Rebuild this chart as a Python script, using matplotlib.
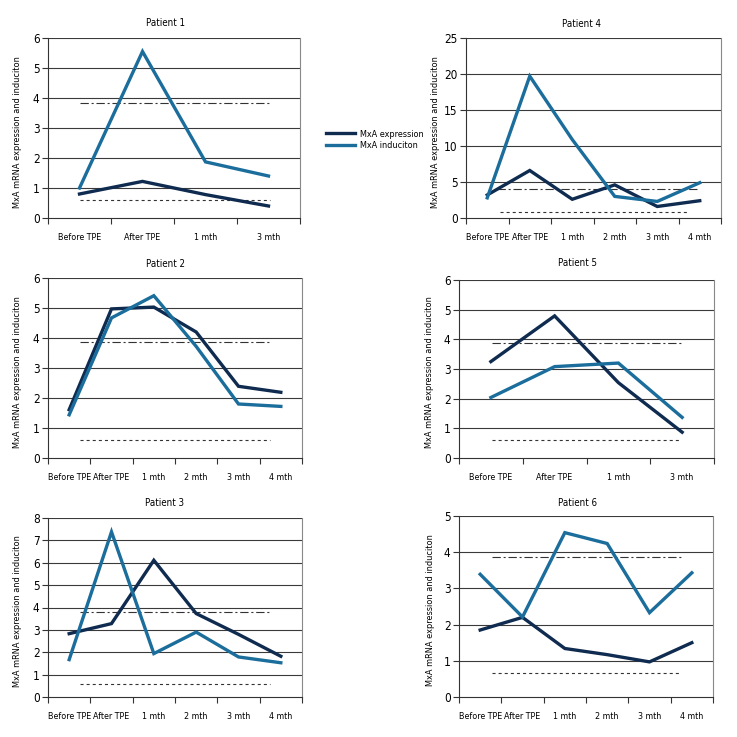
import matplotlib
matplotlib.use("Agg")
import matplotlib.pyplot as plt
from matplotlib.lines import Line2D

plt.rcParams['font.family'] = ['DejaVu Sans']
plt.rcParams['font.stretch'] = 'condensed'
plt.rcParams['lines.scale_dashes'] = False

DARK = "#0f2b50"
LIGHT = "#1b6d9c"

# categories
cats_short = ["Before TPE", "After TPE", "1 mth", "3 mth"]
cats_long = ["Before TPE", "After TPE", "1 mth", "2 mth", "3 mth", "4 mth"]

# MxA expression / induction per patient
p1_expr = [0.8, 1.22, 0.78, 0.4]
p1_ind = [1.0, 5.55, 1.87, 1.4]
p2_expr = [1.61, 4.97, 5.03, 4.2, 2.39, 2.19]
p2_ind = [1.44, 4.67, 5.41, 3.72, 1.8, 1.72]
p3_expr = [2.83, 3.28, 6.11, 3.73, 2.8, 1.82]
p3_ind = [1.67, 7.38, 1.94, 2.9, 1.79, 1.53]
p4_expr = [3.2, 6.6, 2.6, 4.6, 1.6, 2.4]
p4_ind = [2.8, 19.7, 10.9, 3.0, 2.3, 4.9]
p5_expr = [3.25, 4.79, 2.54, 0.87]
p5_ind = [2.04, 3.08, 3.2, 1.37]
p6_expr = [1.85, 2.2, 1.34, 1.17, 0.97, 1.5]
p6_ind = [3.39, 2.21, 4.54, 4.24, 2.33, 3.43]

# y-axis maxima
ymax = [6, 6, 8, 25, 6, 5]

# reference levels: upper (dash-dot) and lower (dashed)
upper_ref = [3.85, 3.87, 3.8, 4.0, 3.87, 3.86]
lower_ref = [0.6, 0.6, 0.6, 0.83, 0.62, 0.65]
# x extent of the reference lines (category index units)
upper_span = [(0.01, 3.02), (0.26, 4.74), (0.26, 4.74), (0.22, 4.96), (0.02, 2.99), (0.29, 4.75)]
lower_span = [(0.01, 3.02), (0.26, 4.74), (0.26, 4.74), (0.30, 4.73), (0.02, 2.99), (0.29, 4.75)]

panels = [
    ("Patient 1", cats_short, p1_expr, p1_ind),
    ("Patient 2", cats_long, p2_expr, p2_ind),
    ("Patient 3", cats_long, p3_expr, p3_ind),
    ("Patient 4", cats_long, p4_expr, p4_ind),
    ("Patient 5", cats_short, p5_expr, p5_ind),
    ("Patient 6", cats_long, p6_expr, p6_ind),
]

# axes boxes in pixels: left, right, top, bottom
boxes = [(48, 300, 38, 218), (48, 302, 278, 458), (48, 302, 518, 697),
         (466, 721, 38, 218), (459, 714, 280, 458), (459, 713, 516, 697)]
title_pos = [(165, 23), (165, 264), (165, 503), (582, 24), (577, 263), (577, 503)]
ylabel_x = [22, 22, 22, 440, 434, 435]

W = H = 737
fig = plt.figure(figsize=(W / 100, H / 100), dpi=100)

for i, (title, cats, expr, ind) in enumerate(panels):
    l, r, t, b = boxes[i]
    ax = fig.add_axes([l / W, 1 - b / H, (r - l) / W, (b - t) / H])
    n = len(cats)
    x = list(range(n))
    ax.set_xlim(-0.5, n - 0.5)
    ax.set_ylim(0, ymax[i])
    step = 5 if ymax[i] > 10 else 1
    yt = list(range(0, ymax[i] + 1, step))
    ax.set_yticks(yt)
    for v in yt[1:]:
        ax.axhline(v, color="#3a3a3a", lw=0.8, zorder=1)

    ax.hlines(upper_ref[i], *upper_span[i], colors="#333333", lw=0.8,
              linestyles=[(0, (6, 2, 1.5, 2))], zorder=2)
    ax.hlines(lower_ref[i], *lower_span[i], colors="#333333", lw=0.8,
              linestyles=[(0, (2.2, 2.2))], zorder=2)

    ax.plot(x, expr, color=DARK, lw=2.4, zorder=3, solid_joinstyle="miter")
    ax.plot(x, ind, color=LIGHT, lw=2.4, zorder=4, solid_joinstyle="miter")

    ax.set_xticks([k - 0.5 for k in range(n + 1)])
    ax.set_xticklabels([])
    ax.set_xticks(x, minor=True)
    ax.set_xticklabels(cats, minor=True, fontsize=6.4)
    ax.tick_params(axis="x", which="major", length=4, width=0.8, color="#333333")
    ax.tick_params(axis="x", which="minor", length=0, pad=11)
    ax.tick_params(axis="y", length=4, width=0.8, color="#333333", labelsize=8.5, pad=2)

    ax.spines["right"].set_color("#888888")
    ax.spines["right"].set_linewidth(0.8)
    ax.spines["top"].set_visible(False)
    ax.spines["left"].set_color("#333333")
    ax.spines["bottom"].set_color("#333333")
    ax.spines["left"].set_linewidth(0.8)
    ax.spines["bottom"].set_linewidth(0.8)

    ax.set_ylabel("MxA mRNA expression and induciton", fontsize=6.6)
    ax.yaxis.set_label_coords((ylabel_x[i] - l) / (r - l), 0.48)

    tx, ty = title_pos[i]
    fig.text(tx / W, 1 - ty / H, title, ha="center", va="center", fontsize=7)

handles = [Line2D([], [], color=DARK, lw=2.4), Line2D([], [], color=LIGHT, lw=2.4)]
fig.legend(handles, ["MxA expression", "MxA induciton"], loc="center left",
           bbox_to_anchor=(321 / W, 1 - 140 / H), frameon=False, fontsize=6.5,
           handlelength=3.3, handletextpad=0.5, labelspacing=0.3, borderpad=0)

fig.savefig("out.png", dpi=100, facecolor="white")
